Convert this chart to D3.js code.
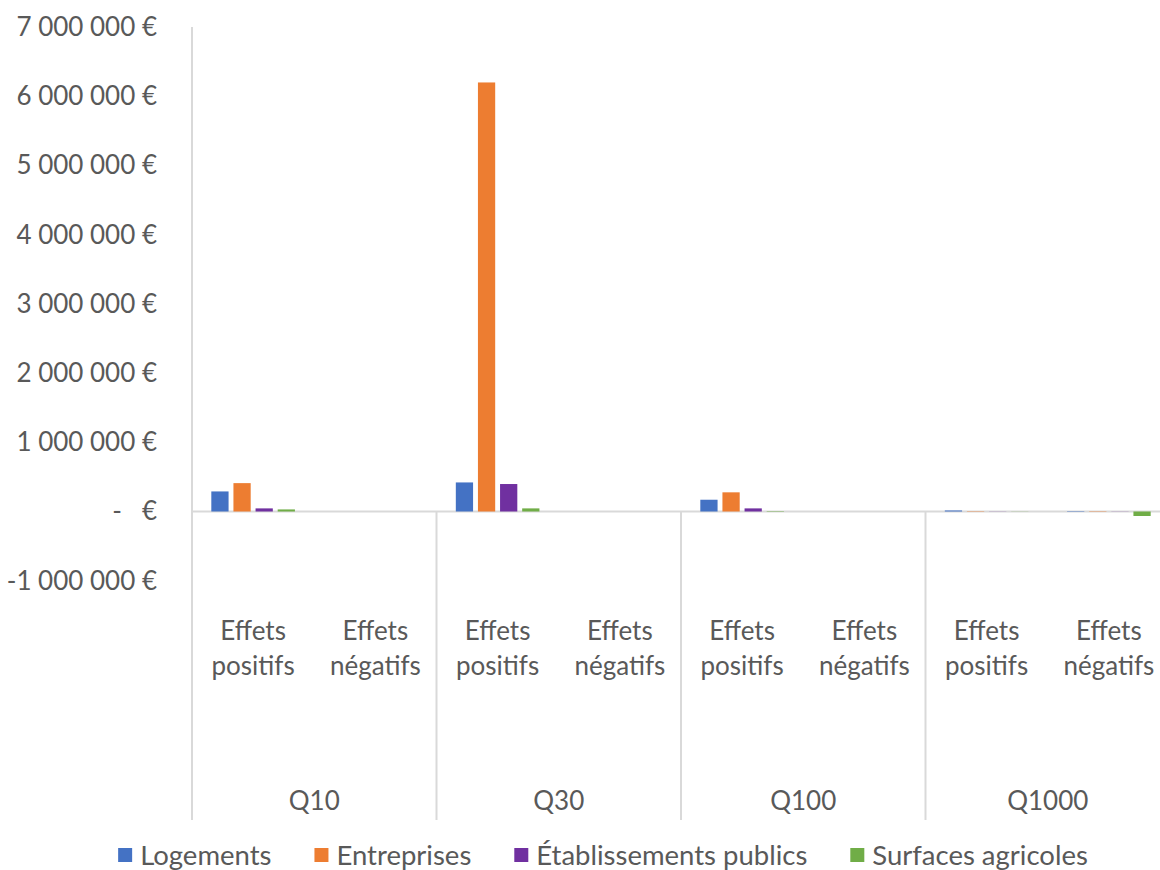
<!DOCTYPE html>
<html>
<head>
<meta charset="utf-8">
<script src="https://cdn.jsdelivr.net/npm/d3@7"></script>
<style>
  html, body { margin: 0; padding: 0; background: #fff; }
  svg { display: block; font-family: Lato, "Open Sans", sans-serif; }
  text { fill: #595959; white-space: pre; }
</style>
</head>
<body>
<svg id="chart" width="1160" height="870"></svg>
<script>
// Return periods (outer category level) and effect type (inner level)
const periods = ["Q10", "Q30", "Q100", "Q1000"];
const effects = ["Effets positifs", "Effets négatifs"];

// Series names, one value per (period, effect) pair, in euros
const seriesNames = ["Logements", "Entreprises", "Établissements publics", "Surfaces agricoles"];
const logements      = [290000, 0, 420000, 0, 170000, 0, 15000, -6000];
const entreprises    = [410000, 0, 6200000, 0, 277000, 0, 5000, -5000];
const etablissements = [45000, 0, 397000, 0, 45000, 0, 2000, -2000];
const surfaces       = [30000, 0, 45000, 0, 6000, 0, 2000, -65000];

const yTicks = [-1000000, 0, 1000000, 2000000, 3000000, 4000000, 5000000, 6000000, 7000000];
const colors = ["#4472C4", "#ED7D31", "#7030A0", "#70AD47"];

const seriesValues = [logements, entreprises, etablissements, surfaces];

// Flatten into category keys "period|effect"
const cats = [];
periods.forEach(p => effects.forEach(e => cats.push({ period: p, effect: e, key: p + "|" + e })));

const svg = d3.select("#chart");
const plotLeft = 192, plotRight = 1170, plotTop = 27.1, axisBottom = 820;

const y = d3.scaleLinear().domain([-1000000, 7000000]).range([580.7, plotTop]);
const x = d3.scaleBand().domain(cats.map(c => c.key)).range([plotLeft, plotRight]).padding(0);
const groupInset = x.bandwidth() * 0.158;
const xs = d3.scaleBand().domain(seriesNames)
  .range([groupInset, x.bandwidth() - groupInset]).paddingInner(0.22);

const loc = d3.formatLocale({ decimal: ",", thousands: "\u00a0", grouping: [3], currency: ["", "\u00a0€"], minus: "-" });
const fmt = loc.format("$,.0f");
const tickFmt = v => v === 0 ? "-\u00a0\u00a0\u00a0€" : fmt(v);

const gridColor = "#D9D9D9";
const fontSize = 26;

// Value axis labels (no axis line; labels only)
const yAxis = d3.axisLeft(y).tickValues(yTicks).tickFormat(tickFmt).tickSize(0).tickPadding(0);
const gy = svg.append("g").attr("transform", `translate(157,0)`).call(yAxis);
gy.select(".domain").remove();
gy.selectAll("text").attr("font-size", fontSize).attr("fill", "#595959").attr("font-family", "Lato, sans-serif");

// Zero line
svg.append("line")
  .attr("x1", plotLeft).attr("x2", 1160)
  .attr("y1", y(0)).attr("y2", y(0))
  .attr("stroke", gridColor).attr("stroke-width", 2);

// Left axis line spanning the plot and the category label area
svg.append("line")
  .attr("x1", plotLeft).attr("x2", plotLeft)
  .attr("y1", plotTop).attr("y2", axisBottom)
  .attr("stroke", gridColor).attr("stroke-width", 2);

// Dividers between outer categories
periods.slice(1).forEach(p => {
  const xx = x(p + "|" + effects[0]);
  svg.append("line")
    .attr("x1", xx).attr("x2", xx)
    .attr("y1", y(0)).attr("y2", axisBottom)
    .attr("stroke", gridColor).attr("stroke-width", 2);
});

// Bars
const barData = [];
seriesNames.forEach((s, si) => {
  cats.forEach((c, ci) => barData.push({ series: s, si, key: c.key, value: seriesValues[si][ci] }));
});
svg.append("g").selectAll("rect").data(barData).join("rect")
  .attr("x", d => x(d.key) + xs(d.series))
  .attr("width", xs.bandwidth())
  .attr("y", d => y(Math.max(0, d.value)))
  .attr("height", d => Math.abs(y(d.value) - y(0)))
  .attr("fill", d => colors[d.si]);

// Inner category labels (two lines each)
const inner = svg.append("g");
cats.forEach(c => {
  const cx = x(c.key) + x.bandwidth() / 2;
  const words = c.effect.split(" ");
  words.forEach((w, i) => {
    inner.append("text")
      .attr("x", cx).attr("y", 631 + i * 35)
      .attr("dy", "0.35em")
      .attr("text-anchor", "middle")
      .attr("font-size", fontSize)
      .text(w);
  });
});

// Outer category labels
periods.forEach(p => {
  const cx = x(p + "|" + effects[0]) + x.bandwidth();
  svg.append("text")
    .attr("x", cx).attr("y", 801).attr("dy", "0.35em")
    .attr("text-anchor", "middle")
    .attr("font-size", fontSize)
    .text(p);
});

// Legend, centred horizontally
const legendFont = 27.5;
const legendGap = 43;
const legend = svg.append("g");
let cursor = 0;
seriesNames.forEach((s, i) => {
  const g = legend.append("g");
  g.append("rect").attr("x", 0).attr("y", -7).attr("width", 14).attr("height", 14).attr("fill", colors[i]);
  const t = g.append("text").attr("x", 22).attr("y", 0).attr("dy", "0.35em")
    .attr("font-size", legendFont).text(s);
  const w = 22 + t.node().getComputedTextLength();
  g.attr("transform", `translate(${cursor},0)`);
  cursor += w + legendGap;
});
const legendWidth = cursor - legendGap;
legend.attr("transform", `translate(${603 - legendWidth / 2},855)`);
</script>
</body>
</html>
